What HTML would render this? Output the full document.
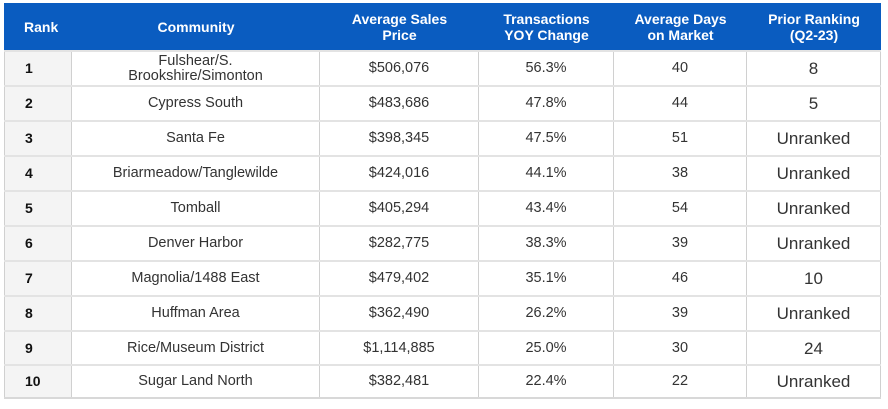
<!DOCTYPE html>
<html><head><style>
body{margin:0;background:#fff;width:888px;height:409px;overflow:hidden;font-family:"Liberation Sans",sans-serif;position:relative;}
.hd{position:absolute;left:4px;top:3px;width:877px;height:47px;background:#0a5cc0;display:flex;}
.hd div{color:#fff;font-weight:bold;font-size:14px;line-height:16px;display:flex;align-items:center;justify-content:center;text-align:center;}
.r{position:absolute;left:4px;width:877px;height:35px;display:flex;box-sizing:border-box;border-top:2px solid #e3e3e3;}
.r div{display:flex;align-items:center;justify-content:center;text-align:center;font-size:14.5px;line-height:15px;color:#333;border-right:1px solid #d0d0d0;box-sizing:border-box;}
.r div:first-child{background:#f4f4f4;justify-content:flex-start;padding-left:20px;color:#111;font-weight:bold;font-size:14px;border-left:1px solid #d0d0d0;}
.r div:last-child{font-size:17px;}
.c1{width:68px}.c2{width:248px}.c3{width:159px}.c4{width:135px}.c5{width:133px}.c6{width:134px}
.hd .c1{justify-content:flex-start;padding-left:20px;box-sizing:border-box;}
.bot{position:absolute;left:4px;top:397px;width:877px;height:2px;background:#d8d8d8;}
</style></head><body>
<div class="hd"><div class="c1">Rank</div><div class="c2">Community</div><div class="c3">Average Sales<br>Price</div><div class="c4">Transactions<br>YOY Change</div><div class="c5">Average Days<br>on Market</div><div class="c6">Prior Ranking<br>(Q2-23)</div></div>
<div class="r" style="top:50px"><div class="c1">1</div><div class="c2">Fulshear/S.<br>Brookshire/Simonton</div><div class="c3">$506,076</div><div class="c4">56.3%</div><div class="c5">40</div><div class="c6">8</div></div>
<div class="r" style="top:85px"><div class="c1">2</div><div class="c2">Cypress South</div><div class="c3">$483,686</div><div class="c4">47.8%</div><div class="c5">44</div><div class="c6">5</div></div>
<div class="r" style="top:120px"><div class="c1">3</div><div class="c2">Santa Fe</div><div class="c3">$398,345</div><div class="c4">47.5%</div><div class="c5">51</div><div class="c6">Unranked</div></div>
<div class="r" style="top:155px"><div class="c1">4</div><div class="c2">Briarmeadow/Tanglewilde</div><div class="c3">$424,016</div><div class="c4">44.1%</div><div class="c5">38</div><div class="c6">Unranked</div></div>
<div class="r" style="top:190px"><div class="c1">5</div><div class="c2">Tomball</div><div class="c3">$405,294</div><div class="c4">43.4%</div><div class="c5">54</div><div class="c6">Unranked</div></div>
<div class="r" style="top:225px"><div class="c1">6</div><div class="c2">Denver Harbor</div><div class="c3">$282,775</div><div class="c4">38.3%</div><div class="c5">39</div><div class="c6">Unranked</div></div>
<div class="r" style="top:260px"><div class="c1">7</div><div class="c2">Magnolia/1488 East</div><div class="c3">$479,402</div><div class="c4">35.1%</div><div class="c5">46</div><div class="c6">10</div></div>
<div class="r" style="top:295px"><div class="c1">8</div><div class="c2">Huffman Area</div><div class="c3">$362,490</div><div class="c4">26.2%</div><div class="c5">39</div><div class="c6">Unranked</div></div>
<div class="r" style="top:330px"><div class="c1">9</div><div class="c2">Rice/Museum District</div><div class="c3">$1,114,885</div><div class="c4">25.0%</div><div class="c5">30</div><div class="c6">24</div></div>
<div class="r" style="top:364px;height:33px"><div class="c1">10</div><div class="c2">Sugar Land North</div><div class="c3">$382,481</div><div class="c4">22.4%</div><div class="c5">22</div><div class="c6">Unranked</div></div>
<div class="bot"></div>
</body></html>
